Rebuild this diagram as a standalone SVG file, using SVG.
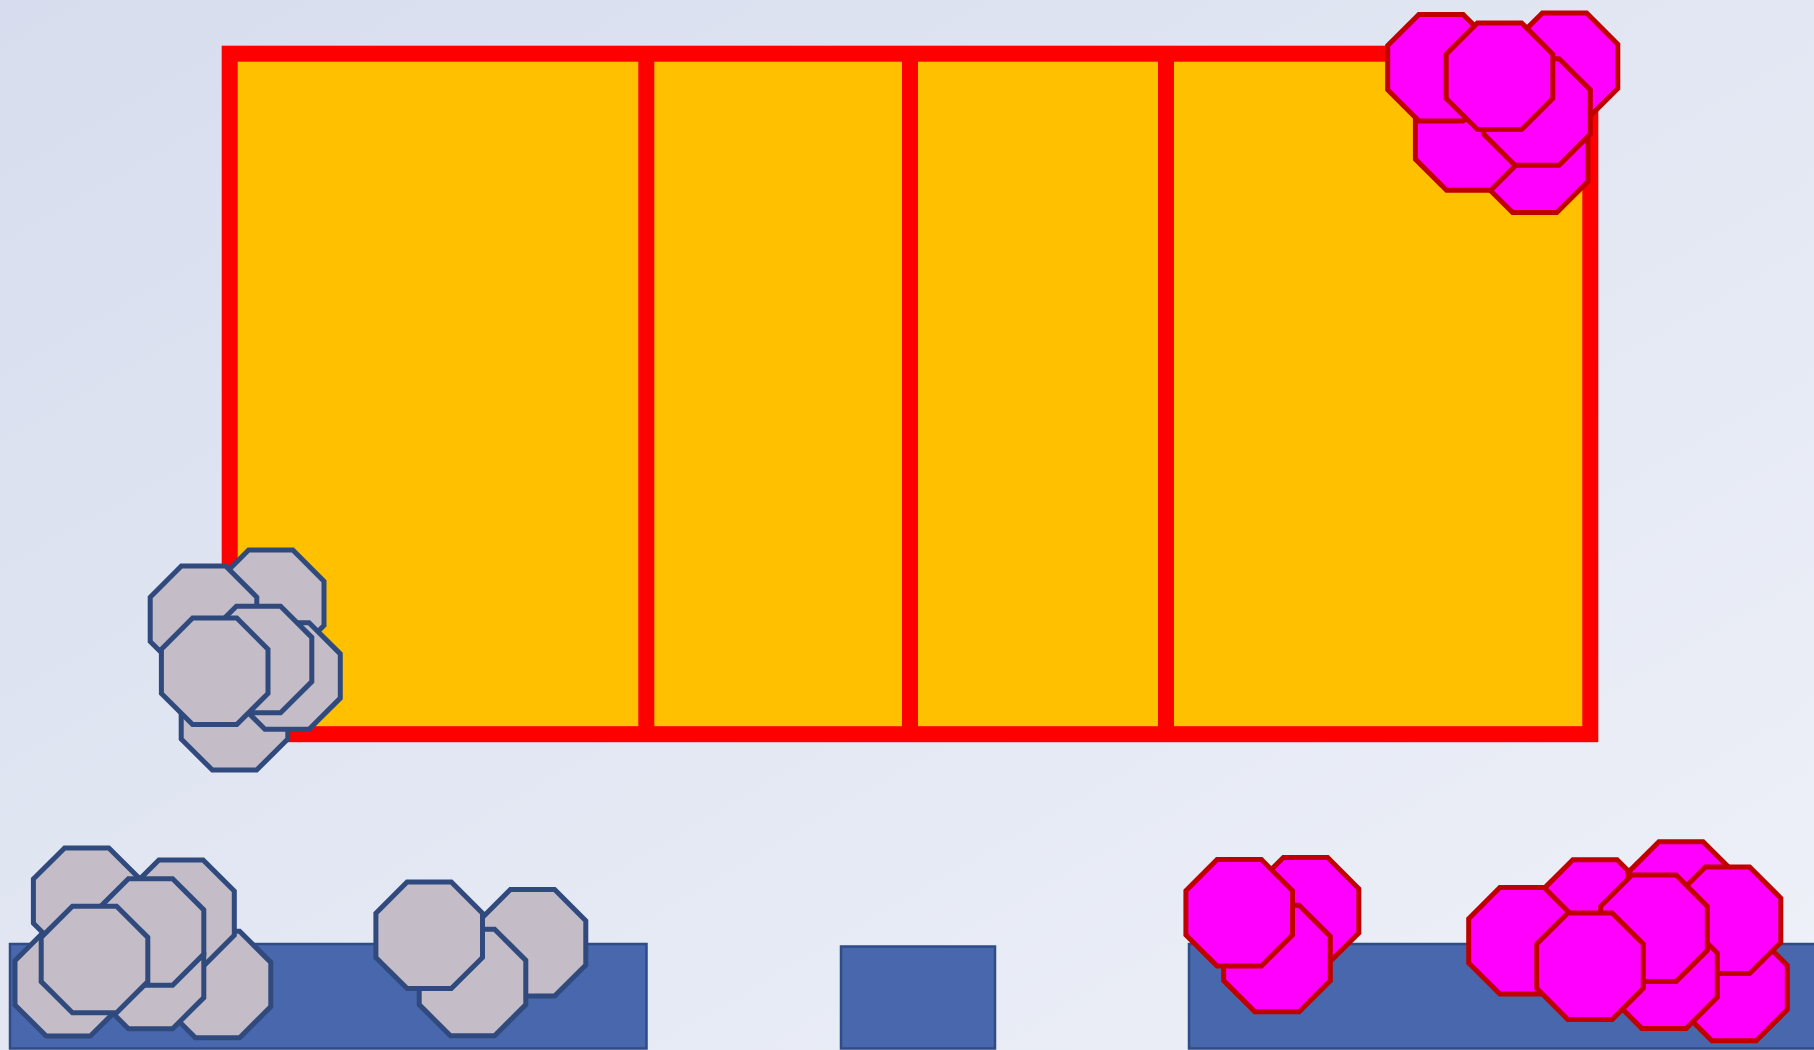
<svg xmlns="http://www.w3.org/2000/svg" xmlns:xlink="http://www.w3.org/1999/xlink" width="1814" height="1050" viewBox="0 0 1814 1050">
<style>
.mag{fill:#FF00FF;stroke:#C00000;stroke-width:5;stroke-linejoin:miter}
.gry{fill:#C4BDC8;stroke:#304A7E;stroke-width:5;stroke-linejoin:miter}
.base{fill:#4967AD;stroke:#2F4C86;stroke-width:2.5}
.frame{fill:#FFC000;stroke:#FF0000;stroke-width:16}
.div{stroke:#FF0000;stroke-width:16}
</style>
<defs>
<linearGradient id="bg" x1="0" y1="0" x2="1" y2="1">
<stop offset="0" stop-color="#D7DDEE"/>
<stop offset="1" stop-color="#EEF1F8"/>
</linearGradient>
<polygon id="oct" points="-22.1,-53.3 22.1,-53.3 53.3,-22.1 53.3,22.1 22.1,53.3 -22.1,53.3 -53.3,22.1 -53.3,-22.1"/>
</defs>
<rect width="1814" height="1050" fill="url(#bg)"/>

<g id="bases">
<rect id="base-left" class="base" x="10" y="944" width="636.5" height="104.5"/>
<rect id="base-mid" class="base" x="841" y="946.5" width="154" height="102"/>
<rect id="base-right" class="base" x="1189" y="944" width="640" height="104.5"/>
</g>

<g id="frame">
<rect class="frame" x="229.7" y="53.7" width="1360.6" height="680.5"/>
<line class="div" x1="646.3" y1="53.7" x2="646.3" y2="734.2"/>
<line class="div" x1="910" y1="53.7" x2="910" y2="734.2"/>
<line class="div" x1="1166" y1="53.7" x2="1166" y2="734.2"/>
</g>

<g id="cluster-top-magenta">
<use id="tm-f" class="mag" xlink:href="#oct" href="#oct" transform="translate(1534.7,159.3)"/>
<use id="tm-e" class="mag" xlink:href="#oct" href="#oct" transform="translate(1468.7,137)"/>
<use id="tm-b" class="mag" xlink:href="#oct" href="#oct" transform="translate(1564.5,66.3)"/>
<use id="tm-a" class="mag" xlink:href="#oct" href="#oct" transform="translate(1441,67.7)"/>
<use id="tm-d" class="mag" xlink:href="#oct" href="#oct" transform="translate(1537,112)"/>
<use id="tm-c" class="mag" xlink:href="#oct" href="#oct" transform="translate(1499.5,76.3)"/>
</g>

<g id="cluster-mid-gray">
<use id="mg-5" class="gry" xlink:href="#oct" href="#oct" transform="translate(234.5,716.8)"/>
<use id="mg-2" class="gry" xlink:href="#oct" href="#oct" transform="translate(270.7,603.3)"/>
<use id="mg-6" class="gry" xlink:href="#oct" href="#oct" transform="translate(287,676)"/>
<use id="mg-1" class="gry" xlink:href="#oct" href="#oct" transform="translate(203.5,619.3)"/>
<use id="mg-3" class="gry" xlink:href="#oct" href="#oct" transform="translate(258.5,659.5)"/>
<use id="mg-4" class="gry" xlink:href="#oct" href="#oct" transform="translate(214.7,671.3)"/>
</g>

<g id="cluster-bottom-left-gray">
<use id="bl-5" class="gry" xlink:href="#oct" href="#oct" transform="translate(68.3,982.8)"/>
<use id="bl-7" class="gry" xlink:href="#oct" href="#oct" transform="translate(217.5,984.5)"/>
<use id="bl-2" class="gry" xlink:href="#oct" href="#oct" transform="translate(181,913.2)"/>
<use id="bl-1" class="gry" xlink:href="#oct" href="#oct" transform="translate(86.7,901.2)"/>
<use id="bl-6" class="gry" xlink:href="#oct" href="#oct" transform="translate(150.5,975.5)"/>
<use id="bl-3" class="gry" xlink:href="#oct" href="#oct" transform="translate(150.5,932)"/>
<use id="bl-4" class="gry" xlink:href="#oct" href="#oct" transform="translate(94.5,959.5)"/>
</g>

<g id="cluster-bottom-mid-gray">
<use id="bm-2" class="gry" xlink:href="#oct" href="#oct" transform="translate(532.5,942.8)"/>
<use id="bm-3" class="gry" xlink:href="#oct" href="#oct" transform="translate(472.5,982.5)"/>
<use id="bm-1" class="gry" xlink:href="#oct" href="#oct" transform="translate(429.2,935.3)"/>
</g>

<g id="cluster-bottom-mid-magenta">
<use id="jm-2" class="mag" xlink:href="#oct" href="#oct" transform="translate(1305.5,910.8)"/>
<use id="jm-3" class="mag" xlink:href="#oct" href="#oct" transform="translate(1277,958.5)"/>
<use id="jm-1" class="mag" xlink:href="#oct" href="#oct" transform="translate(1239.2,912.8)"/>
</g>

<g id="cluster-bottom-right-magenta">
<use id="km-2" class="mag" xlink:href="#oct" href="#oct" transform="translate(1595,913)"/>
<use id="km-3" class="mag" xlink:href="#oct" href="#oct" transform="translate(1681,895)"/>
<use id="km-8" class="mag" xlink:href="#oct" href="#oct" transform="translate(1734,987.5)"/>
<use id="km-4" class="mag" xlink:href="#oct" href="#oct" transform="translate(1727.5,920.3)"/>
<use id="km-7" class="mag" xlink:href="#oct" href="#oct" transform="translate(1664,975.2)"/>
<use id="km-1" class="mag" xlink:href="#oct" href="#oct" transform="translate(1522,940.8)"/>
<use id="km-5" class="mag" xlink:href="#oct" href="#oct" transform="translate(1654,928.3)"/>
<use id="km-6" class="mag" xlink:href="#oct" href="#oct" transform="translate(1590,966.2)"/>
</g>

<g id="connectors"/>
</svg>
